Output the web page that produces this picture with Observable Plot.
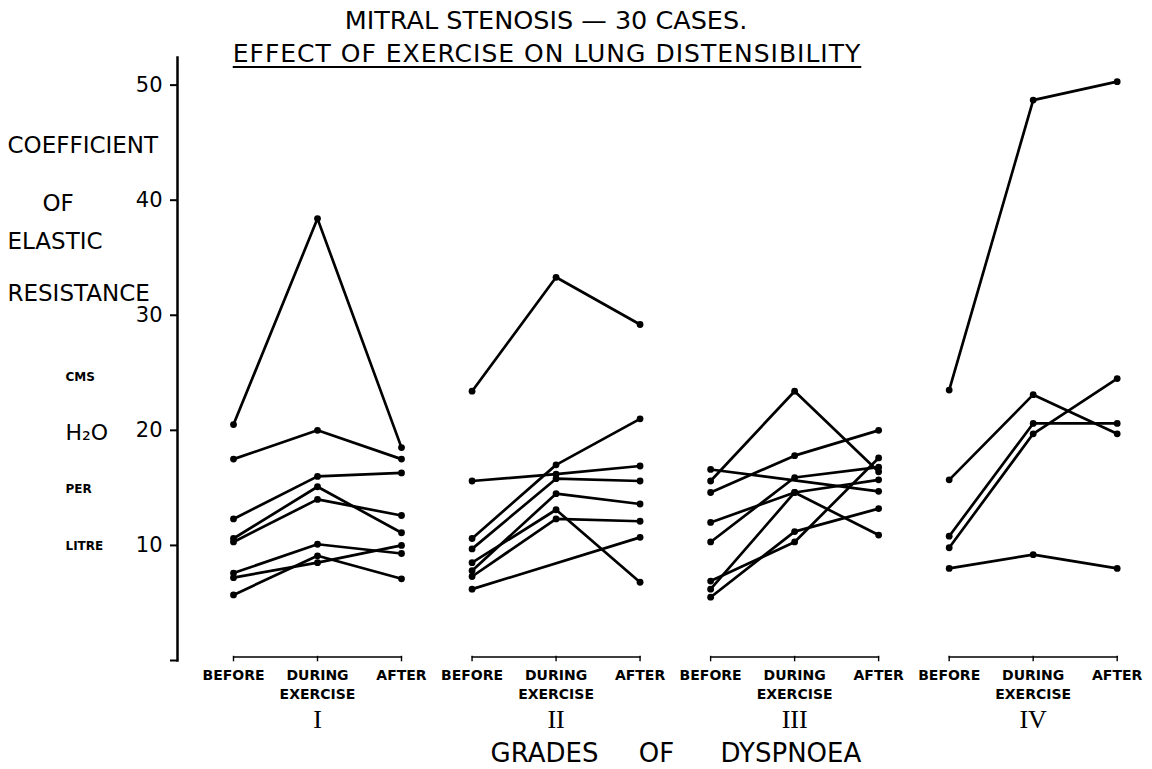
<!DOCTYPE html>
<html>
<head>
<meta charset="utf-8">
<script src="https://cdn.jsdelivr.net/npm/d3@7"></script>
<script src="https://cdn.jsdelivr.net/npm/@observablehq/plot@0.6"></script>
<style>
  html, body { margin: 0; padding: 0; background: #fff; }
  body { font-family: "DejaVu Sans", sans-serif; color: #000; width: 1152px; height: 769px; overflow: hidden; }
  #head { position: relative; height: 56px; z-index: 2; pointer-events: none; }
  #t1 { position: absolute; left: 546px; transform: translateX(-50%); top: 5px; font-size: 25.5px; line-height: 30px; white-space: nowrap; }
  #t2 { position: absolute; left: 547px; transform: translateX(-50%); top: 40px; font-size: 25px; line-height: 28px; white-space: nowrap; letter-spacing: 1px; }
  #t2 span { text-decoration: underline; text-decoration-thickness: 2px; text-underline-offset: 4px; }
  #chart { position: relative; z-index: 1; }
</style>
</head>
<body>
<div id="head">
  <div id="t1">MITRAL STENOSIS — 30 CASES.</div>
  <div id="t2"><span>EFFECT OF EXERCISE ON LUNG DISTENSIBILITY</span></div>
</div>
<div id="chart"></div>
<script>
// ---- data ----
const groups = ["I", "II", "III", "IV"];
const phases = ["BEFORE", "DURING", "AFTER"];
const yTicks = [0, 10, 20, 30, 40, 50];
// each case: [before, during, after] coefficient of elastic resistance (cms H2O per litre)
const gradeI = [
  [20.5, 38.4, 18.5], [17.5, 20.0, 17.5], [12.3, 16.0, 16.3], [10.6, 15.1, 11.1],
  [10.3, 14.0, 12.6], [7.6, 10.1, 9.3], [7.2, 8.5, 10.0], [5.7, 9.1, 7.1]
];
const gradeII = [
  [23.4, 33.3, 29.2], [15.6, 16.2, 16.9], [10.6, 17.0, 21.0], [9.7, 15.8, 15.6],
  [8.5, 13.1, 6.8], [7.8, 14.5, 13.6], [7.3, 12.3, 12.1], [6.2, null, 10.7]
];
const gradeIII = [
  [15.6, 23.4, 16.4], [16.6, null, 14.7], [14.6, 17.8, 20.0], [12.0, 14.6, 15.7],
  [10.3, 15.9, 16.8], [6.9, 10.3, 17.6], [6.2, 14.6, 10.9], [5.5, 11.2, 13.2]
];
const gradeIV = [
  [23.5, 48.7, 50.3], [15.7, 23.1, 19.7], [10.8, 20.6, 20.6], [9.8, 19.7, 24.5], [8.0, 9.2, 8.0]
];
const yLabelWords = ["COEFFICIENT", "OF", "ELASTIC", "RESISTANCE"];
const unitWords = ["CMS", "H₂O", "PER", "LITRE"];
const xTitleWords = ["GRADES", "OF", "DYSPNOEA"];

// ---- table ----
const byGrade = {I: gradeI, II: gradeII, III: gradeIII, IV: gradeIV};
const rows = [];
groups.forEach(g => byGrade[g].forEach((vals, ci) => vals.forEach((v, pi) =>
  rows.push({grade: g, id: g + "-" + ci, phase: phases[pi], value: v}))));
const phaseLabels = groups.flatMap(g => phases.map(p => ({grade: g, phase: p})));

// ---- layout ----
const groupGap = 2.84; // distance between grade groups, in phase steps
const xpos = (g, p) => groups.indexOf(g) * groupGap + phases.indexOf(p);
const W = 1152, H = 713, mt = 1, mb = 109, ml = 177, mr = 20;
const step = 84, lead = 56;
const font = "'DejaVu Sans', sans-serif";
const has = d => d.value != null;
const base = () => 0;
const lab = (text, dx, dy, fontSize, extra = {}) =>
  Plot.text([text], {frameAnchor: "top-left", textAnchor: "start", lineAnchor: "middle",
    dx, dy, fontSize, ...extra});

const chart = Plot.plot({
  width: W, height: H,
  marginTop: mt, marginBottom: mb, marginLeft: ml, marginRight: mr,
  x: {domain: [-lead / step, (W - mr - ml - lead) / step], axis: null},
  y: {domain: [0, 52.4], axis: null},
  style: {background: "transparent", fontFamily: font, color: "black", overflow: "visible"},
  marks: [
    Plot.frame({anchor: "left", stroke: "black", strokeWidth: 2.5}),
    Plot.axisY({ticks: yTicks, tickSize: 7, tickPadding: 8, strokeWidth: 2, label: null,
      tickFormat: d => d === 0 ? "" : String(d), fontSize: 21}),
    Plot.line(rows, {filter: has, x: d => xpos(d.grade, d.phase), y: "value", z: "id",
      stroke: "black", strokeWidth: 2.7, strokeLinejoin: "round"}),
    Plot.dot(rows, {filter: has, x: d => xpos(d.grade, d.phase), y: "value", r: 3.4, fill: "black"}),
    // brackets over the phase labels
    Plot.line(phaseLabels, {x: d => xpos(d.grade, d.phase), y: base, z: "grade",
      dy: -3.5, stroke: "black", strokeWidth: 1.4}),
    Plot.ruleX(phaseLabels, {x: d => xpos(d.grade, d.phase), y1: base, y2: base,
      insetTop: -4.2, insetBottom: -1.3, stroke: "black", strokeWidth: 1.4}),
    // x labels
    Plot.text(phaseLabels, {x: d => xpos(d.grade, d.phase), text: "phase", frameAnchor: "bottom",
      lineAnchor: "middle", dy: 15, fontSize: 14, fontWeight: "bold"}),
    Plot.text(groups, {x: g => xpos(g, "DURING"), text: () => "EXERCISE", frameAnchor: "bottom",
      lineAnchor: "middle", dy: 34, fontSize: 14, fontWeight: "bold"}),
    Plot.text(groups, {x: g => xpos(g, "DURING"), text: d => d, frameAnchor: "bottom",
      lineAnchor: "middle", dy: 59, fontSize: 26, fontFamily: "'Liberation Serif', serif"}),
    Plot.text([xTitleWords[0]], {frameAnchor: "bottom-left", textAnchor: "end", lineAnchor: "middle", dx: 421, dy: 93, fontSize: 26}),
    Plot.text([xTitleWords[1]], {frameAnchor: "bottom-left", textAnchor: "middle", lineAnchor: "middle", dx: 479, dy: 93, fontSize: 26}),
    Plot.text([xTitleWords[2]], {frameAnchor: "bottom-left", textAnchor: "start", lineAnchor: "middle", dx: 543, dy: 93, fontSize: 26}),
    // y title
    lab(yLabelWords[0], -170, 88, 23, {letterSpacing: -0.5}),
    lab(yLabelWords[1], -135, 146, 23),
    lab(yLabelWords[2], -170, 184, 23),
    lab(yLabelWords[3], -170, 236, 23, {letterSpacing: -0.5}),
    lab(unitWords[0], -112, 320, 12, {fontWeight: "bold"}),
    lab(unitWords[1], -112, 375, 22),
    lab(unitWords[2], -112, 432, 12, {fontWeight: "bold"}),
    lab(unitWords[3], -112, 489, 12, {fontWeight: "bold"})
  ]
});
document.getElementById("chart").appendChild(chart);
</script>
</body>
</html>
